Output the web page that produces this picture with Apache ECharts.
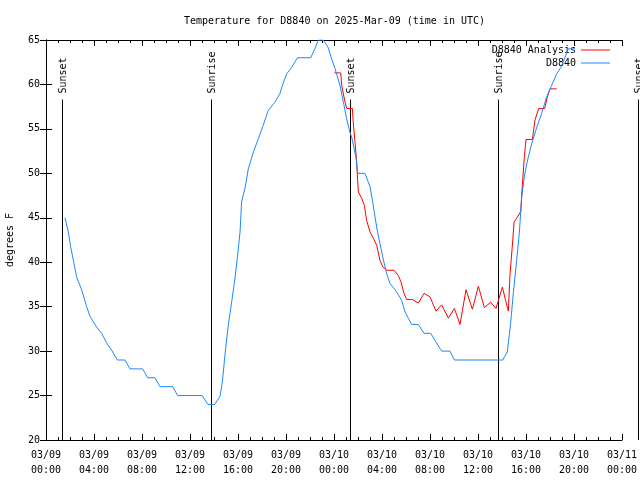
<!DOCTYPE html>
<html>
<head>
<meta charset="utf-8">
<script src="https://cdn.jsdelivr.net/npm/echarts@6/dist/echarts.min.js"></script>
<style>html,body{margin:0;padding:0;background:#fff;}#c{width:640px;height:480px;}</style>
</head>
<body>
<div id="c"></div>
<script>
// ---- data (hours since 2025-03-09 00:00 UTC, degrees F) ----
const xTickLabels = ['03/09\n00:00','03/09\n04:00','03/09\n08:00','03/09\n12:00','03/09\n16:00','03/09\n20:00',
  '03/10\n00:00','03/10\n04:00','03/10\n08:00','03/10\n12:00','03/10\n16:00','03/10\n20:00','03/11\n00:00'];
const yTicks = [20,25,30,35,40,45,50,55,60,65];

const obsHours = [1.58,1.86,2.06,2.28,2.56,2.97,3.39,3.67,4.22,4.64,5.06,5.47,5.94,6.58,7.0,8.06,8.47,9.08,9.5,10.56,
  10.97,13.0,13.5,14.05,14.5,14.7,14.97,15.19,15.47,15.75,15.97,16.17,16.3,16.58,16.86,17.28,17.7,18.1,18.53,19.08,
  19.5,19.7,20.06,20.47,20.95,22.06,22.4,22.7,23.1,23.5,23.8,24.08,24.5,24.78,25.06,25.33,25.47,25.83,25.97,26.58,
  27.0,27.2,27.42,27.6,27.83,28.06,28.39,28.67,29.2,29.64,29.92,30.2,30.47,31.03,31.5,32.06,32.42,32.83,33.0,33.67,
  34.03,38.06,38.44,38.72,38.94,39.22,39.44,39.64,39.9,40.19,40.47,40.9,41.3,41.72,42.14,42.56,42.9,43.33,43.5,44.08];
const obsTemps = [45.0,43.4,41.7,40.2,38.3,36.9,35.0,33.9,32.7,32.0,30.9,30.1,29.0,29.0,28.0,28.0,27.0,27.0,26.0,26.0,
  25.0,25.0,24.0,24.0,24.9,26.6,30.3,32.9,35.5,38.2,40.8,43.4,46.8,48.3,50.5,52.4,53.9,55.4,57.1,58.0,
  59.0,59.9,61.2,61.9,63.0,63.0,64.0,65.0,65.0,64.2,62.9,61.8,59.9,58.0,56.1,54.6,54.1,51.8,50.0,50.0,
  48.5,47.0,45.1,43.6,42.1,40.6,38.7,37.6,36.7,35.7,34.4,33.7,33.0,33.0,32.0,32.0,31.2,30.3,30.0,30.0,
  29.0,29.0,29.9,33.1,36.5,40.2,43.2,47.3,50.0,51.8,53.3,55.2,56.7,58.6,59.9,61.2,61.9,63.3,64.0,64.0];

const anaHours = [24.03,24.56,24.64,24.92,25.06,25.53,25.6,25.75,25.89,25.97,26.03,26.3,26.53,26.72,27.0,27.28,27.56,
  27.83,28.06,28.4,29.0,29.36,29.58,29.83,30.06,30.56,31.03,31.5,32.0,32.5,32.97,33.53,34.03,34.5,35.0,35.53,36.03,
  36.53,37.06,37.5,38.03,38.3,38.53,38.67,38.9,39.0,39.2,39.56,39.7,39.86,40.0,40.53,40.75,41.06,41.56,41.78,42.0,42.56];
const anaTemps = [61.3,61.3,59.9,58.0,57.3,57.3,55.8,53.5,51.3,49.2,47.9,47.2,46.4,44.7,43.4,42.7,41.9,
  40.2,39.5,39.1,39.1,38.5,37.8,36.5,35.8,35.8,35.4,36.5,36.1,34.5,35.2,33.7,34.8,33.0,36.9,34.7,37.3,
  34.9,35.5,34.8,37.2,35.7,34.5,38.7,42.5,44.5,44.9,45.7,48.8,51.8,53.8,53.8,56.0,57.3,57.3,58.6,59.5,59.5];

const eventHours = [1.36,13.78,25.36,37.67,49.33];
const eventNames = ['Sunset','Sunrise','Sunset','Sunrise','Sunset'];

// ---- styles ----
const FONT = 'DejaVu Sans Mono';
const FS = 10;
const LINE_TOP = 58.3;

const zip = (a,b) => a.map((v,i)=>[v,b[i]]);

const chart = echarts.init(document.getElementById('c'), null, {renderer:'canvas'});

const tickCommon = {
  axisLine:{show:true, lineStyle:{color:'#000', width:1}},
  splitLine:{show:false}
};

chart.setOption({
  animation:false,
  backgroundColor:'#fff',
  title:{
    text:'Temperature for D8840 on 2025-Mar-09 (time in UTC)',
    left:179, top:11,
    textStyle:{fontFamily:FONT, fontSize:FS, fontWeight:'normal', color:'#000'}
  },
  grid:{left:46, right:18, top:40, bottom:40, containLabel:false, outerBoundsMode:'none'},
  legend:{
    orient:'vertical', right:25, top:38.5, align:'right', padding:5,
    icon:'rect', itemWidth:29, itemHeight:1, itemGap:0,
    data:['D8840 Analysis','D8840'],
    textStyle:{fontFamily:FONT, fontSize:FS, color:'#000', lineHeight:13}
  },
  xAxis:[
    Object.assign({
      type:'value', min:0, max:48, interval:4,
      axisTick:{show:true, inside:true, length:6, lineStyle:{color:'#000'}},
      minorTick:{show:true, splitNumber:4, length:3, lineStyle:{color:'#000'}},
      minorSplitLine:{show:false},
      axisLabel:{margin:8, fontFamily:FONT, fontSize:FS, color:'#000', lineHeight:15,
        formatter:(v)=>xTickLabels[Math.round(v/4)] || ''}
    }, tickCommon),
    Object.assign({
      type:'value', min:0, max:48, interval:4, position:'top',
      axisTick:{show:true, inside:true, length:6, lineStyle:{color:'#000'}},
      minorTick:{show:true, splitNumber:4, length:3, lineStyle:{color:'#000'}},
      minorSplitLine:{show:false},
      axisLabel:{show:false}
    }, tickCommon)
  ],
  yAxis:[
    Object.assign({
      type:'value', min:yTicks[0], max:yTicks[yTicks.length-1], interval:5,
      name:'degrees F', nameLocation:'middle', nameGap:31,
      nameTextStyle:{fontFamily:FONT, fontSize:FS, color:'#000'},
      axisTick:{show:true, inside:true, length:6, lineStyle:{color:'#000'}},
      axisLabel:{margin:6, fontFamily:FONT, fontSize:FS, color:'#000'}
    }, tickCommon),
    Object.assign({
      type:'value', min:yTicks[0], max:yTicks[yTicks.length-1], interval:5, position:'right',
      axisTick:{show:true, inside:true, length:6, lineStyle:{color:'#000'}},
      axisLabel:{show:false}
    }, tickCommon)
  ],
  series:[
    {
      name:'D8840 Analysis', type:'line', data:zip(anaHours, anaTemps),
      showSymbol:false, symbol:'none', lineStyle:{color:'#ff0000', width:1}, itemStyle:{color:'#ff0000'},
      z:3
    },
    {
      name:'D8840', type:'line', data:zip(obsHours, obsTemps),
      showSymbol:false, symbol:'none', lineStyle:{color:'#1a88ff', width:1}, itemStyle:{color:'#1a88ff'},
      z:4
    },
    {
      name:'events', type:'custom', clip:false, silent:true,
      data:eventHours.map(h=>[h, yTicks[0]]),
      renderItem:(params, api)=>{
        const h = api.value(0);
        const p0 = api.coord([h, yTicks[0]]);
        const p1 = api.coord([h, LINE_TOP]);
        const x = Math.round(p0[0]) + 0.5;
        return {type:'group', children:[
          {type:'line', shape:{x1:x, y1:p0[1], x2:x, y2:p1[1]}, style:{stroke:'#000', lineWidth:1}},
          {type:'text', x:x+0.5, y:p1[1]-6, rotation:Math.PI/2,
           style:{text:eventNames[params.dataIndex], align:'left', verticalAlign:'middle',
             font:FS+'px "'+FONT+'"', fill:'#000'}}
        ]};
      },
      z:2
    }
  ]
});
</script>
</body>
</html>
